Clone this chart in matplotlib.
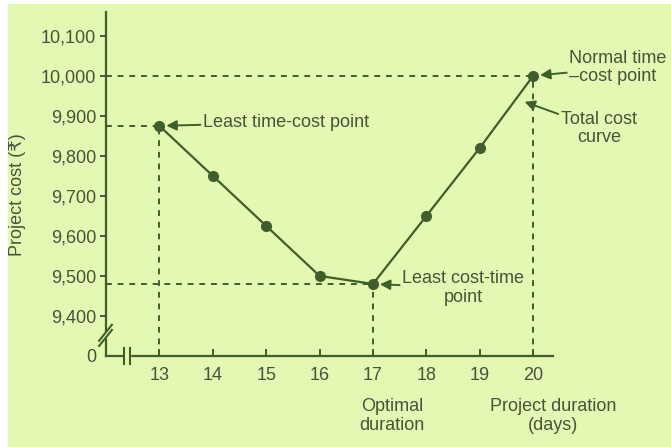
import matplotlib.pyplot as plt

plt.rcParams['font.family'] = ['Liberation Sans', 'DejaVu Sans']

days = [13, 14, 15, 16, 17, 18, 19, 20]
cost = [9875, 9750, 9625, 9500, 9480, 9650, 9820, 10000]
ytick_vals = [9300, 9400, 9500, 9600, 9700, 9800, 9900, 10000, 10100]
ytick_labels = ['0', '9,400', '9,500', '9,600', '9,700', '9,800', '9,900', '10,000', '10,100']

bg = '#e3f8b2'
lc = '#3f5e2c'
tc = '#46553a'
fs = 13

fig = plt.figure(figsize=(6.71, 4.47), dpi=100)
fig.patch.set_facecolor('white')
fig.add_artist(plt.Rectangle((0.012, 0), 0.988, 0.99, transform=fig.transFigure,
                             color=bg, zorder=0))
ax = fig.add_axes([0.158, 0.2036, 0.666, 0.77])
ax.set_facecolor('none')
ax.set_xlim(12, 20.37)
ax.set_ylim(9300, 10160)

for s in ['top', 'right']:
    ax.spines[s].set_visible(False)
for s in ['left', 'bottom']:
    ax.spines[s].set_color(lc)
    ax.spines[s].set_linewidth(1.6)

ax.set_xticks(days)
ax.set_xticklabels([str(d) for d in days])
ax.set_yticks(ytick_vals)
ax.set_yticklabels(ytick_labels)
ax.tick_params(axis='x', direction='in', length=5, width=1.4, color=lc,
               labelsize=fs, labelcolor=tc, pad=8)
ax.tick_params(axis='y', direction='out', length=4, width=1.4, color=lc,
               labelsize=fs, labelcolor=tc, pad=3)
ax.yaxis.get_major_ticks()[0].tick1line.set_visible(False)

# dashed guide lines
dk = dict(color=lc, lw=1.4, ls=(0, (3, 3)), zorder=1)
ax.plot([12, days[-1]], [cost[-1]] * 2, **dk)
ax.plot([12, days[0]], [cost[0]] * 2, **dk)
ax.plot([12, days[4]], [cost[4]] * 2, **dk)
for i in [0, 4, 7]:
    ax.plot([days[i]] * 2, [9300, cost[i]], **dk)

ax.plot(days, cost, color=lc, lw=1.6, marker='o', ms=7, zorder=3)

# axis break marks
bk = dict(color=lc, lw=1.5, clip_on=False, zorder=4)
ax.fill_between([12.34, 12.44], 9290, 9312, color=bg, zorder=3, clip_on=False)
ax.plot([12.33, 12.33], [9280, 9320], **bk)
ax.plot([12.44, 12.44], [9280, 9320], **bk)
ax.fill_between([11.9, 12.1], 9348, 9360, color=bg, zorder=3, clip_on=False)
ax.plot([11.87, 12.11], [9338, 9378], **bk)
ax.plot([11.87, 12.11], [9325, 9365], **bk)

ap = dict(arrowstyle='-|>', color=lc, lw=1.4, mutation_scale=15, shrinkA=0, shrinkB=5)
tk = dict(fontsize=fs, color=tc)
ax.annotate('Least time-cost point', xy=(days[0], cost[0]), xytext=(13.82, cost[0] + 8),
            va='center', ha='left', arrowprops=ap, **tk)
ax.annotate('Normal time\n\u2013cost point', xy=(days[-1], cost[-1]), xytext=(20.68, 10020),
            va='center', ha='left', linespacing=1.1, arrowprops=ap, annotation_clip=False, **tk)
ax.annotate('Total cost\ncurve', xy=(19.84, 9935), xytext=(20.52, 9868),
            va='center', ha='left', multialignment='center', linespacing=1.1,
            arrowprops=dict(ap, shrinkB=0), annotation_clip=False, **tk)
ax.annotate('Least cost-time\npoint', xy=(days[4], cost[4]), xytext=(17.55, 9470),
            va='center', ha='left', multialignment='center', linespacing=1.1,
            arrowprops=ap, **tk)

fig.text(392 / 671, 1 - 416 / 447, 'Optimal\nduration', ha='center', va='center',
         linespacing=1.1, **tk)
fig.text(553 / 671, 1 - 416 / 447, 'Project duration\n(days)', ha='center', va='center',
         linespacing=1.1, **tk)
fig.text(18 / 671, 1 - 195 / 447, 'Project cost (\u20b9)', rotation=90, ha='center',
         va='center', **tk)

fig.savefig('out.png', dpi=100, facecolor='white')
